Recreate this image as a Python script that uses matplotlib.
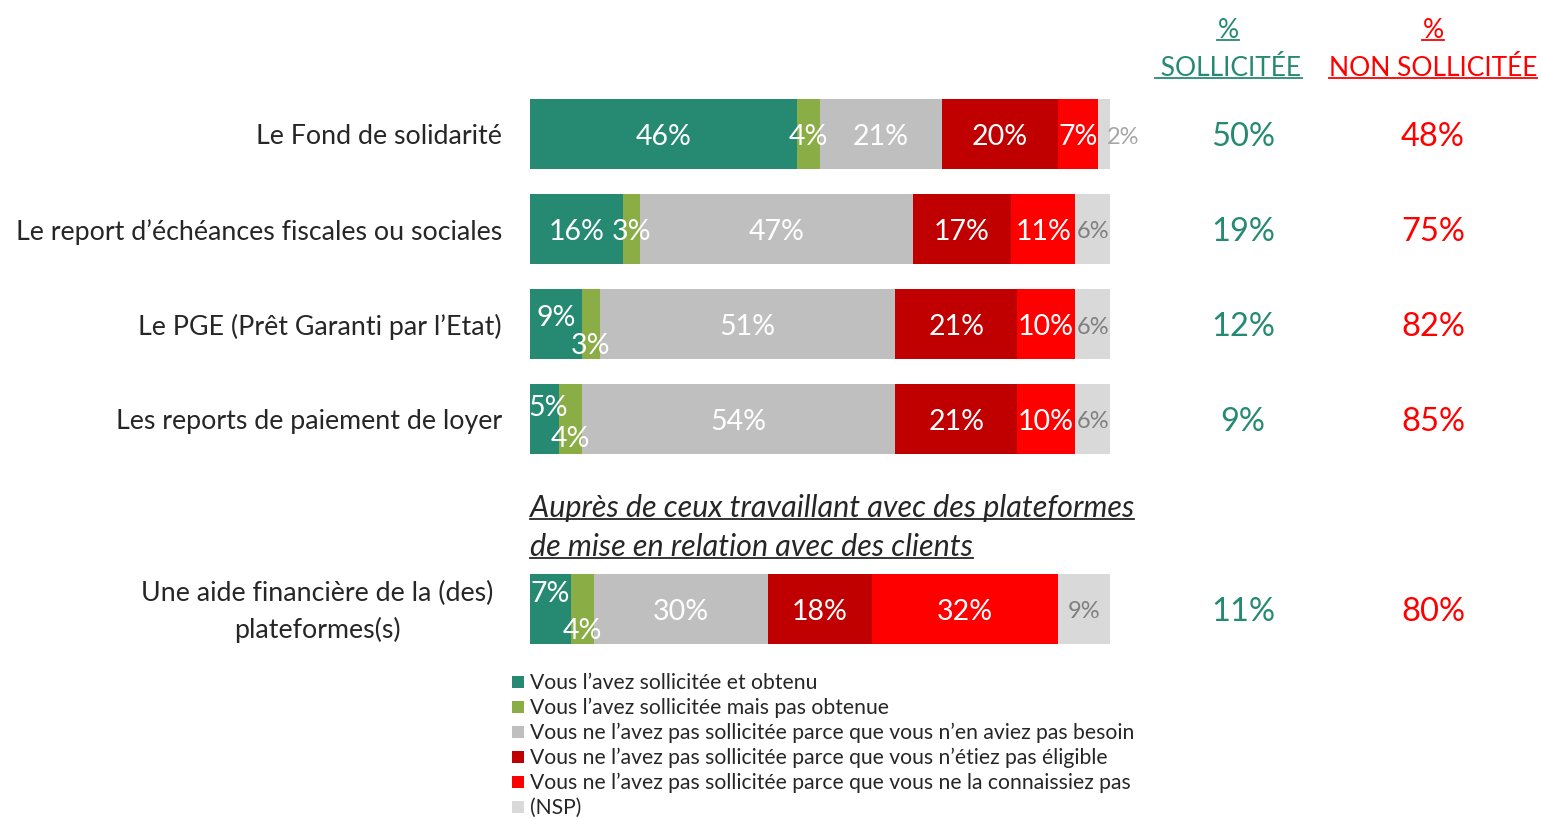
import matplotlib
matplotlib.use('Agg')
import matplotlib.pyplot as plt
from matplotlib.patches import Rectangle
from matplotlib.lines import Line2D

plt.rcParams['font.family'] = ['Lato', 'DejaVu Sans']

# ---------------- data ----------------
categories = [
    "Le Fond de solidarité",
    "Le report d’échéances fiscales ou sociales",
    "Le PGE (Prêt Garanti par l’Etat)",
    "Les reports de paiement de loyer",
    "Une aide financière de la (des)\nplateformes(s)",
]
series_names = [
    "Vous l’avez sollicitée et obtenu",
    "Vous l’avez sollicitée mais pas obtenue",
    "Vous ne l’avez pas sollicitée parce que vous n’en aviez pas besoin",
    "Vous ne l’avez pas sollicitée parce que vous n’étiez pas éligible",
    "Vous ne l’avez pas sollicitée parce que vous ne la connaissiez pas",
    "(NSP)",
]
obtenu = [46, 16, 9, 5, 7]
pas_obtenue = [4, 3, 3, 4, 4]
pas_besoin = [21, 47, 51, 54, 30]
pas_eligible = [20, 17, 21, 21, 18]
pas_connue = [7, 11, 10, 10, 32]
nsp = [2, 6, 6, 6, 9]
pct_sollicitee = [50, 19, 12, 9, 11]
pct_non_sollicitee = [48, 75, 82, 85, 80]
subtitle = ["Auprès de ceux travaillant avec des plateformes",
            "de mise en relation avec des clients"]
header_sol = ["%", " SOLLICITÉE"]
header_non = ["%", "NON SOLLICITÉE"]

series = [obtenu, pas_obtenue, pas_besoin, pas_eligible, pas_connue, nsp]
colors = ["#268A72", "#8BAD46", "#BFBFBF", "#C00000", "#FF0000", "#D9D9D9"]
label_colors = ["white", "white", "white", "white", "white", "#7F7F7F"]
GREEN = "#268A72"
RED = "#FF0000"
DARK = "#262626"

# ---------------- layout ----------------
W, H = 1541, 818
fig = plt.figure(figsize=(W / 100, H / 100), dpi=100)
ax = fig.add_axes([530 / W, 0, 580 / W, 1])
ax.set_xlim(0, 100)
ax.set_ylim(H, 0)
ax.axis('off')

row_y = [134, 229, 324, 419, 609]
bar_h = 70
DY = 3  # compensation: va='center' includes descent
# vertical offsets of the labels of the two first (small) segments
small_off = {2: (-9, 19), 3: (-14, 17), 4: (-18, 19)}


def ftext(x, y, s, **kw):
    return fig.text(x / W, 1 - y / H, s, **kw)


left = [0] * len(categories)
for si, (vals, col) in enumerate(zip(series, colors)):
    ax.barh(row_y, vals, left=left, height=bar_h, color=col, linewidth=0)
    for ri, v in enumerate(vals):
        cx = left[ri] + v / 2
        cy = row_y[ri] + DY
        if ri in small_off and si < 2:
            cy += small_off[ri][si]
            if si == 0 and v < 6:
                cx += 0.6
        txt = f"{v}%"
        if si == 5 and v < 4:
            ax.text(left[ri] + v - 0.5, row_y[ri] + DY, txt, ha='left', va='center',
                    fontsize=17, color="#A6A6A6")
        else:
            fs = 17 if si == 5 else 20.5
            ax.text(cx, cy, txt, ha='center', va='center', fontsize=fs,
                    color=label_colors[si])
    left = [l + v for l, v in zip(left, vals)]

# category labels
for ri, cat in enumerate(categories):
    if "\n" in cat:
        ftext(317, row_y[ri] + DY, cat, ha='center', va='center', fontsize=19.3,
              color=DARK, linespacing=1.5)
    else:
        ftext(502, row_y[ri] + DY, cat, ha='right', va='center', fontsize=19.3,
              color=DARK)

# right columns
for ri in range(len(categories)):
    ftext(1243, row_y[ri] + DY, f"{pct_sollicitee[ri]}%", ha='center', va='center',
          fontsize=23.5, color=GREEN)
    ftext(1433, row_y[ri] + DY, f"{pct_non_sollicitee[ri]}%", ha='center', va='center',
          fontsize=23.5, color=RED)

# headers
underlined = []
for x, lines, col in [(1228, header_sol, GREEN), (1433, header_non, RED)]:
    for y, s in zip([28, 66], lines):
        t = ftext(x, y + 2, s, ha='center', va='center', fontsize=19, color=col)
        underlined.append((t, col))

# subtitle
for i, line in enumerate(subtitle):
    t = ftext(530, 508 + 39 * i, line, ha='left', va='center', fontsize=22,
              style='italic', color=DARK)
    underlined.append((t, DARK))

# legend
leg_y0 = 682
for i, (name, col) in enumerate(zip(series_names, colors)):
    y = leg_y0 + 25 * i
    fig.add_artist(Rectangle((512 / W, 1 - (y + 6) / H), 12 / W, 12 / H,
                             transform=fig.transFigure, color=col, lw=0))
    ftext(530, y + 1, name, ha='left', va='center', fontsize=15.2, color=DARK)

fig.canvas.draw()
renderer = fig.canvas.get_renderer()
for t, col in underlined:
    bb = t.get_window_extent(renderer)
    y = bb.y0 + 3
    fig.add_artist(Line2D([bb.x0 / W, bb.x1 / W], [y / H, y / H],
                          transform=fig.transFigure, color=col, lw=1.3))

fig.savefig("out.png", dpi=100)
